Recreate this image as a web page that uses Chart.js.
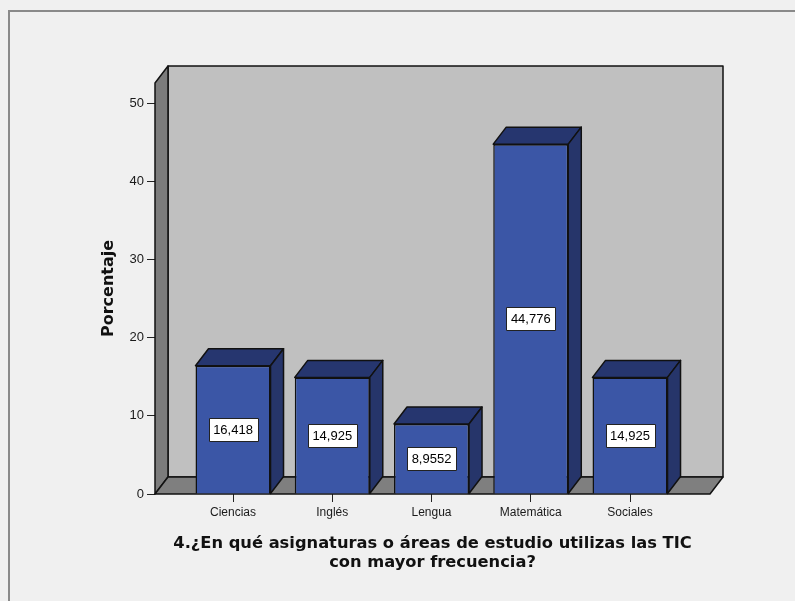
<!DOCTYPE html>
<html lang="es">
<head>
    <meta charset="UTF-8">
    <title>Asignaturas con TIC</title>
    <script src="https://cdn.jsdelivr.net/npm/chart.js"></script>
    <style>
        html, body { margin: 0; padding: 0; background: #f0f0f0; }
        #wrap { position: relative; width: 795px; height: 601px; overflow: hidden; }
        #marco { position: absolute; left: 8px; top: 10px; width: 800px; height: 600px;
                 border-left: 2px solid #8a8a8a; border-top: 2px solid #8a8a8a; pointer-events: none; }
        canvas { position: absolute; left: 0; top: 0; }
    </style>
</head>
<body>
<div id="wrap">
    <canvas id="grafico" width="795" height="601"></canvas>
    <div id="marco"></div>
</div>
<script>
// Datos del gráfico
const categorias = ['Ciencias', 'Inglés', 'Lengua', 'Matemática', 'Sociales'];
const porcentajes = [16.418, 14.925, 8.9552, 44.776, 14.925];
const etiquetas = ['16,418', '14,925', '8,9552', '44,776', '14,925'];
const ticksY = [0, 10, 20, 30, 40, 50];

const DX = 13, DY = -17; // profundidad del efecto 3D

function poligono(ctx, pts, relleno) {
    ctx.beginPath();
    ctx.moveTo(pts[0][0], pts[0][1]);
    for (let i = 1; i < pts.length; i++) ctx.lineTo(pts[i][0], pts[i][1]);
    ctx.closePath();
    ctx.fillStyle = relleno;
    ctx.fill();
    ctx.stroke();
}

// Paredes, suelo y caras laterales de las barras
const efecto3d = {
    id: 'efecto3d',
    beforeDatasetsDraw(chart) {
        const { ctx, chartArea: a } = chart;
        ctx.save();
        ctx.lineWidth = 1.5;
        ctx.strokeStyle = '#111';
        ctx.lineJoin = 'round';
        poligono(ctx, [[a.left + DX, a.top + DY], [a.right + DX, a.top + DY], [a.right + DX, a.bottom + DY], [a.left + DX, a.bottom + DY]], '#c0c0c0');
        poligono(ctx, [[a.left, a.bottom], [a.left, a.top], [a.left + DX, a.top + DY], [a.left + DX, a.bottom + DY]], '#7c7c7c');
        poligono(ctx, [[a.left, a.bottom], [a.left + DX, a.bottom + DY], [a.right + DX, a.bottom + DY], [a.right, a.bottom]], '#7f7f7f');
        ctx.restore();
    },
    afterDatasetsDraw(chart) {
        const { ctx } = chart;
        const meta = chart.getDatasetMeta(0);
        ctx.save();
        ctx.lineWidth = 1.5;
        ctx.strokeStyle = '#111';
        ctx.lineJoin = 'round';
        meta.data.forEach((barra, i) => {
            const { x, y, base, width } = barra.getProps(['x', 'y', 'base', 'width'], true);
            const l = x - width / 2, r = x + width / 2;
            poligono(ctx, [[l, y], [l + DX, y + DY], [r + DX, y + DY], [r, y]], '#26366f');
            poligono(ctx, [[r, y], [r + DX, y + DY], [r + DX, base + DY], [r, base]], '#26356a');
        });
        // etiquetas de valor
        ctx.font = '13px "Liberation Sans", Arial, sans-serif';
        ctx.textAlign = 'center';
        ctx.textBaseline = 'middle';
        ctx.lineWidth = 1;
        meta.data.forEach((barra, i) => {
            const { x, y, base } = barra.getProps(['x', 'y', 'base'], true);
            const cy = (y + base) / 2;
            const w = ctx.measureText(etiquetas[i]).width + 9;
            const h = 23;
            ctx.fillStyle = '#fff';
            ctx.fillRect(Math.round(x - w / 2) + 0.5, Math.round(cy - h / 2) + 0.5, Math.round(w), h);
            ctx.strokeStyle = '#222';
            ctx.strokeRect(Math.round(x - w / 2) + 0.5, Math.round(cy - h / 2) + 0.5, Math.round(w), h);
            ctx.fillStyle = '#000';
            ctx.fillText(etiquetas[i], x, cy + 1);
        });
        ctx.restore();
    }
};

const ctx = document.getElementById('grafico').getContext('2d');
new Chart(ctx, {
    type: 'bar',
    data: {
        datasets: [{
            data: categorias.map((c, i) => ({ x: i, y: porcentajes[i] })),
            backgroundColor: '#3b56a6',
            borderColor: '#111',
            borderWidth: 1.5,
            barPercentage: 0.756,
            categoryPercentage: 1
        }]
    },
    options: {
        responsive: false,
        animation: false,
        devicePixelRatio: 1,
        layout: { padding: { left: 90, right: 85, top: 83, bottom: 0 } },
        plugins: { legend: { display: false }, tooltip: { enabled: false } },
        scales: {
            x: {
                type: 'linear',
                offset: false,
                min: -0.786,
                max: 4.806,
                afterBuildTicks: s => { s.ticks = categorias.map((c, i) => ({ value: i })); },
                afterFit: s => { s.height = 107; },
                grid: { offset: false, drawOnChartArea: false, drawTicks: true, tickLength: 8, color: '#222', lineWidth: 1 },
                border: { display: false },
                ticks: {
                    callback: (v) => categorias[v],
                    color: '#1a1a1a',
                    padding: 3,
                    maxRotation: 0,
                    font: { family: '"Liberation Sans", Arial, sans-serif', size: 12 }
                },
                title: {
                    display: true,
                    text: ['4.¿En qué asignaturas o áreas de estudio utilizas las TIC', 'con mayor frecuencia?'],
                    color: '#111',
                    padding: { top: 0, bottom: 29 },
                    font: { family: '"DejaVu Sans", sans-serif', weight: 'bold', size: 16.3, lineHeight: 1.17 }
                }
            },
            y: {
                min: 0,
                max: 52.6,
                afterBuildTicks: s => { s.ticks = ticksY.map(v => ({ value: v })); },
                afterFit: s => { s.width = 65; },
                grid: { drawOnChartArea: false, drawTicks: true, tickLength: 8, color: '#222', lineWidth: 1 },
                border: { display: false },
                ticks: {
                    color: '#1a1a1a',
                    padding: 3,
                    font: { family: '"Liberation Sans", Arial, sans-serif', size: 13 }
                },
                title: {
                    display: true,
                    text: 'Porcentaje',
                    color: '#111',
                    padding: { top: 9, bottom: 0 },
                    font: { family: '"DejaVu Sans", sans-serif', weight: 'bold', size: 16 }
                }
            }
        }
    },
    plugins: [efecto3d]
});
</script>
</body>
</html>
